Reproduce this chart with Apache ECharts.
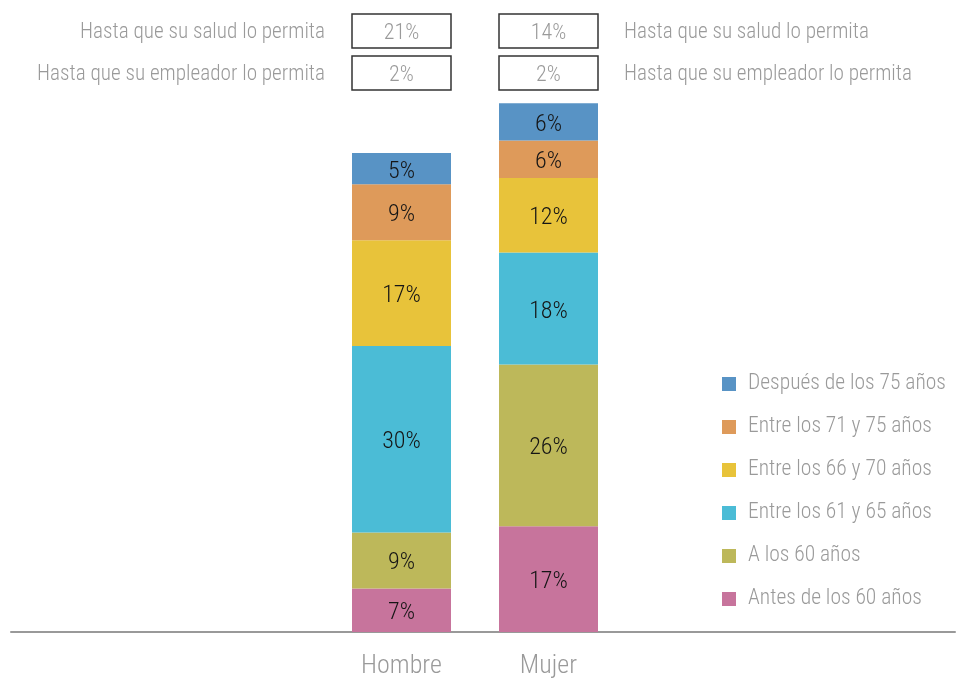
<!DOCTYPE html>
<html>
<head>
<meta charset="utf-8">
<script src="https://cdn.jsdelivr.net/npm/echarts@6/dist/echarts.min.js"></script>
<style>
  html, body { margin: 0; padding: 0; background: #fff; }
  #chart { width: 957px; height: 681px; }
</style>
</head>
<body>
<div id="chart"></div>
<script>
// datos
const categories = ['Hombre', 'Mujer']
const seriesNames = ['Antes de los 60 años', 'A los 60 años', 'Entre los 61 y 65 años',
  'Entre los 66 y 70 años', 'Entre los 71 y 75 años', 'Después de los 75 años']
const seriesColors = ['#C7749C', '#BDB85A', '#4BBCD6', '#E8C33A', '#DE9A5A', '#5893C5']
const antes60 = [7, 17]
const a60 = [9, 26]
const entre61y65 = [30, 18]
const entre66y70 = [17, 12]
const entre71y75 = [9, 6]
const despues75 = [5, 6]
const seriesValues = [antes60, a60, entre61y65, entre66y70, entre71y75, despues75]
// cajas superiores
const boxLabels = ['Hasta que su salud lo permita', 'Hasta que su empleador lo permita']
const saludValues = [21, 14]
const empleadorValues = [2, 2]

const FONT = "'Roboto Condensed', 'Roboto', sans-serif"
const GRAY = '#9a9a9a'

const chart = echarts.init(document.getElementById('chart'))

const series = seriesNames.map((name, i) => ({
  name: name,
  type: 'bar',
  stack: 'total',
  xAxisIndex: 0,
  yAxisIndex: 0,
  barWidth: 99,
  data: seriesValues[i],
  itemStyle: { color: seriesColors[i] },
  label: {
    show: true,
    position: 'inside',
    offset: [0, 3],
    formatter: '{c}%',
    color: '#151515',
    fontSize: 24,
    fontWeight: 300,
    fontFamily: FONT
  },
  emphasis: { disabled: true }
}))

chart.setOption({
  animation: false,
  grid: [
    { left: 328, width: 294, top: 10, bottom: 49 },
    { left: 11, right: 2, top: 10, bottom: 49 }
  ],
  xAxis: [
    {
      type: 'category',
      gridIndex: 0,
      data: categories,
      axisLine: { show: false },
      axisTick: { show: false },
      axisLabel: { color: GRAY, fontSize: 26, fontWeight: 300, fontFamily: FONT, margin: 21 }
    },
    {
      type: 'value',
      gridIndex: 1,
      axisLine: { show: true, onZero: false, lineStyle: { color: '#999', width: 2 } },
      axisTick: { show: false },
      axisLabel: { show: false },
      splitLine: { show: false }
    }
  ],
  yAxis: [
    { type: 'value', gridIndex: 0, min: 0, max: 100, show: false },
    { type: 'value', gridIndex: 1, show: false }
  ],
  legend: {
    orient: 'vertical',
    left: 717,
    top: 367,
    icon: 'rect',
    itemWidth: 14,
    itemHeight: 14,
    itemGap: 19,
    data: seriesNames.slice().reverse(),
    textStyle: { color: GRAY, fontSize: 21.5, fontWeight: 300, fontFamily: FONT, lineHeight: 24, padding: [0, 0, 0, 7] },
    selectedMode: false
  },
  series: series
})

// cajas con porcentajes encima de las barras
const graphics = []
const rows = [saludValues, empleadorValues]
const rowTop = [14, 56]
rows.forEach((vals, r) => {
  vals.forEach((v, c) => {
    const cx = chart.convertToPixel({ xAxisIndex: 0 }, categories[c])
    graphics.push({
      type: 'rect',
      shape: { x: cx - 49.5, y: rowTop[r], width: 99, height: 34 },
      style: { fill: '#fff', stroke: '#333', lineWidth: 1.5 }
    })
    graphics.push({
      type: 'text',
      x: cx,
      y: rowTop[r] + 19,
      style: {
        text: v + '%', fill: GRAY, fontSize: 22, fontWeight: 300, fontFamily: FONT,
        align: 'center', verticalAlign: 'middle'
      }
    })
  })
  const leftX = chart.convertToPixel({ xAxisIndex: 0 }, categories[0]) - 49.5 - 27
  const rightX = chart.convertToPixel({ xAxisIndex: 0 }, categories[1]) + 49.5 + 26
  graphics.push({
    type: 'text', x: leftX, y: rowTop[r] + 19,
    style: { text: boxLabels[r], fill: GRAY, fontSize: 21.2, fontWeight: 300, fontFamily: FONT, align: 'right', verticalAlign: 'middle' }
  })
  graphics.push({
    type: 'text', x: rightX, y: rowTop[r] + 19,
    style: { text: boxLabels[r], fill: GRAY, fontSize: 21.2, fontWeight: 300, fontFamily: FONT, align: 'left', verticalAlign: 'middle' }
  })
})
chart.setOption({ graphic: graphics })
</script>
</body>
</html>
